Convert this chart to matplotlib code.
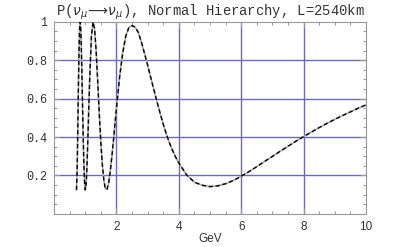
import matplotlib
matplotlib.use('Agg')
import matplotlib.pyplot as plt
from matplotlib.ticker import MultipleLocator

# energy (GeV) and survival probability
energy = [0.72, 0.74, 0.76, 0.78, 0.80, 0.82, 0.84, 0.86, 0.88, 0.90,
          0.92, 0.94, 0.96, 0.98, 1.00, 1.02, 1.04, 1.06, 1.08, 1.10,
          1.15, 1.20, 1.25, 1.30, 1.35, 1.40, 1.45, 1.50, 1.55, 1.60,
          1.65, 1.70, 1.75, 1.80, 1.85, 1.90, 1.95, 2.00,
          2.1, 2.2, 2.3, 2.4, 2.5, 2.6, 2.7, 2.8, 2.9, 3.0,
          3.1, 3.2, 3.3, 3.4, 3.5, 3.6, 3.7, 3.8, 3.9, 4.0,
          4.25, 4.5, 4.75, 5.0, 5.25, 5.5, 5.75, 6.0, 6.25, 6.5,
          6.75, 7.0, 7.25, 7.5, 7.75, 8.0, 8.25, 8.5, 8.75, 9.0,
          9.25, 9.5, 9.75, 10.0]
prob = [0.125, 0.215, 0.41, 0.638, 0.836, 0.963, 1.0, 0.952, 0.838, 0.686,
        0.522, 0.371, 0.25, 0.165, 0.125, 0.135, 0.185, 0.265, 0.363, 0.471,
        0.735, 0.924, 0.999, 0.964, 0.849, 0.692, 0.525, 0.375, 0.255, 0.172,
        0.13, 0.128, 0.16, 0.218, 0.29, 0.372, 0.46, 0.547,
        0.708, 0.835, 0.925, 0.97, 0.98, 0.972, 0.945, 0.895, 0.835, 0.775,
        0.71, 0.647, 0.585, 0.525, 0.468, 0.415, 0.37, 0.33, 0.295, 0.265,
        0.203, 0.165, 0.149, 0.142, 0.146, 0.157, 0.174, 0.196, 0.22, 0.246,
        0.273, 0.299, 0.326, 0.352, 0.378, 0.402, 0.426, 0.449, 0.471, 0.492,
        0.512, 0.531, 0.55, 0.567]

x_ticks = [2, 4, 6, 8, 10]
y_ticks = [0.2, 0.4, 0.6, 0.8, 1.0]
y_labels = ['0.2', '0.4', '0.6', '0.8', '1']

fig = plt.figure(figsize=(4, 2.47), dpi=100)
ax = fig.add_axes([0.135, 0.134, 0.78, 0.778])

grid_col = '#6a6ab8'
for gx in [2, 4, 6, 8]:
    ax.axvline(gx, color=grid_col, lw=1.0, zorder=1)
for gy in [0.2, 0.4, 0.6, 0.8]:
    ax.axhline(gy, color=grid_col, lw=1.0, zorder=1)

ax.plot(energy, prob, color='#a8a8a8', lw=1.2, zorder=2)
ax.plot(energy, prob, color='black', lw=1.0, dashes=(3, 2), zorder=3)

ax.set_xlim(0, 10)
ax.set_ylim(0, 1)
ax.set_xticks(x_ticks)
ax.set_xticklabels([str(t) for t in x_ticks], family='Liberation Sans', fontsize=8.5, color='#333333')
ax.set_yticks(y_ticks)
ax.set_yticklabels(y_labels, family='Liberation Mono', fontsize=8.5, color='#333333')
ax.xaxis.set_minor_locator(MultipleLocator(0.5))
ax.yaxis.set_minor_locator(MultipleLocator(0.05))
ax.tick_params(which='both', direction='in', top=True, right=True, color='#999999', width=0.7)
ax.tick_params(which='major', length=4, pad=5)
ax.tick_params(which='minor', length=2)
for s in ax.spines.values():
    s.set_color('#999999')
    s.set_linewidth(0.8)

ax.set_xlabel('GeV', family='Liberation Sans', fontsize=8.5, color='#333333', labelpad=0)
ax.set_title(r'P($\nu_\mu\!\longrightarrow\!\nu_\mu$), Normal Hierarchy, L=2540km',
             family='Liberation Mono', fontsize=10, color='#333333', pad=4)

fig.savefig('out.png', dpi=100)
